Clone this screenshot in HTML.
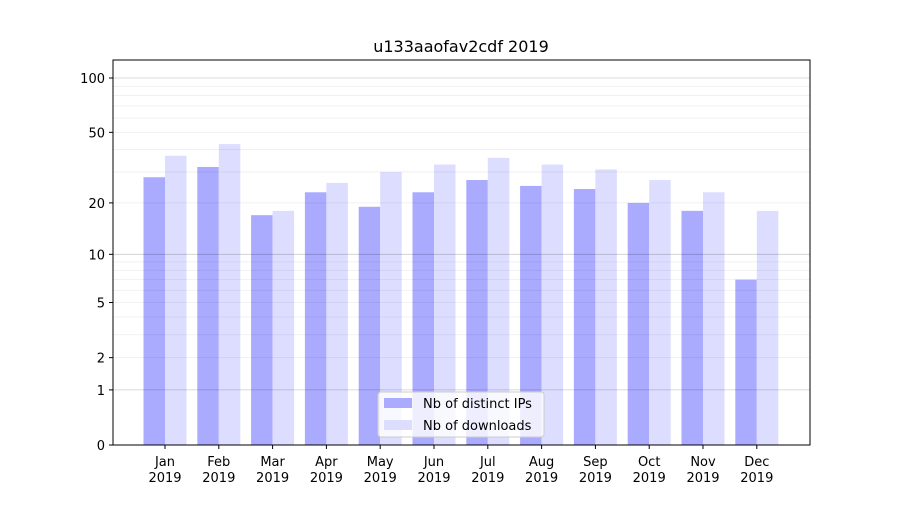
<!DOCTYPE html>
<html><head><meta charset="utf-8"><style>
body{margin:0;background:#fff;}
svg text{font-family:"DejaVu Sans","Liberation Sans",sans-serif;font-size:13px;fill:#000;}
</style></head><body>
<svg id="chart" width="900" height="500">
<rect width="900" height="500" fill="#fff"/>
<text x="461" y="52" text-anchor="middle" style="font-size:16px">u133aaofav2cdf 2019</text>
<g id="bars"></g><g id="grid"></g><g id="axes"></g>
</svg>
<script>
const months=["Jan","Feb","Mar","Apr","May","Jun","Jul","Aug","Sep","Oct","Nov","Dec"];
const ips=[28,32,17,23,19,23,27,25,24,20,18,7];
const downloads=[37,43,18,26,30,33,36,33,31,27,23,18];
const yTicks=[0,1,2,5,10,20,50,100];
const minorTicks=[2,3,4,5,6,7,8,9,20,30,40,50,60,70,80,90];
const majorGrid=[1,10,100];
const NS="http://www.w3.org/2000/svg";
const L=113,R=810,T=60,B=445;
function y(v){return B-183.1*Math.log10(1+v);}
function xc(i){return 165+i*53.8;}
function mk(tag,attrs,parent){const e=document.createElementNS(NS,tag);for(const k in attrs)e.setAttribute(k,attrs[k]);parent.appendChild(e);return e;}
const grid=document.getElementById('grid'),bars=document.getElementById('bars'),axes=document.getElementById('axes');
minorTicks.forEach(v=>{const l=mk('line',{x1:L,x2:R,y1:y(v),y2:y(v),stroke:'#000','stroke-opacity':0.07,'stroke-width':0.8},grid);

});
majorGrid.forEach(v=>{const l=mk('line',{x1:L,x2:R,y1:y(v),y2:y(v),stroke:'#000','stroke-opacity':0.2,'stroke-width':0.8},grid);

});
const bw=21.5;
months.forEach((m,i)=>{
 const a=mk('rect',{x:xc(i)-bw,y:y(ips[i]),width:bw,height:B-y(ips[i]),fill:'#aaaaff'},bars);
 
 
 const b=mk('rect',{x:xc(i),y:y(downloads[i]),width:bw,height:B-y(downloads[i]),fill:'#ddddff'},bars);
 
 
 mk('line',{x1:xc(i),x2:xc(i),y1:B,y2:B+4,stroke:'#000'},axes);
 const t=mk('text',{x:xc(i),y:B+21,'text-anchor':'middle'},axes);t.textContent=m;
 
 
 const t2=mk('text',{x:xc(i),y:B+37,'text-anchor':'middle'},axes);t2.textContent='2019';
 
 
});
yTicks.forEach(v=>{
 mk('line',{x1:L-4,x2:L,y1:y(v),y2:y(v),stroke:'#000'},axes);
 const t=mk('text',{x:L-8,y:y(v)+5,'text-anchor':'end'},axes);t.textContent=v;
 
 
});
const fr=mk('rect',{x:L,y:T,width:R-L,height:B-T,fill:'none',stroke:'#000','stroke-width':1},axes);


const lg=mk('g',{},axes);


mk('rect',{x:378,y:392,width:166,height:45,rx:3,fill:'#fff','fill-opacity':0.8,stroke:'#ccc'},lg);
mk('rect',{x:384,y:398,width:28,height:10,fill:'#aaaaff'},lg);
mk('rect',{x:384,y:420,width:28,height:10,fill:'#ddddff'},lg);
const l1=mk('text',{x:423,y:408},lg);l1.textContent='Nb of distinct IPs';


const l2=mk('text',{x:423,y:430},lg);l2.textContent='Nb of downloads';


</script>
</body></html>
